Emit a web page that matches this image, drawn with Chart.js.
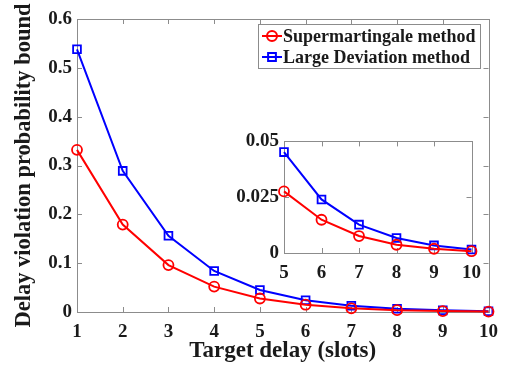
<!DOCTYPE html>
<html><head><meta charset="utf-8">
<script src="https://cdn.jsdelivr.net/npm/chart.js@4"></script>
<style>
html,body{margin:0;padding:0;background:#fff;}
#wrap{position:relative;width:507px;height:367px;}
#main{position:absolute;left:0;top:0;}
#inset{position:absolute;left:220px;top:125px;}
</style></head>
<body>
<div id="wrap">
<canvas id="main" width="507" height="367"></canvas>
<canvas id="inset" width="270" height="165"></canvas>
</div>
<script>
const targetDelay = [1,2,3,4,5,6,7,8,9,10];
const supermartingale = [0.332,0.179,0.096,0.052,0.0276,0.0149,0.0076,0.0037,0.0019,0.0008];
const largeDeviation = [0.538,0.289,0.156,0.084,0.0452,0.024,0.0127,0.0067,0.0034,0.0016];
const mainYTicks = [0,0.1,0.2,0.3,0.4,0.5,0.6];
const insetDelay = [5,6,7,8,9,10];
const insetYTicks = [0,0.025,0.05];
const seriesNames = ['Supermartingale method','Large Deviation method'];

const RED = '#ff0000', BLUE = '#0000ff', AXIS = '#8c8c8c', TXT = '#1a1a1a';
const FONT = "'Liberation Serif', 'Times New Roman', serif";

function pts(xs, ys, off){ return xs.map((x,i)=>({x:x, y:ys[i+(off||0)]})); }
function fmt(v){ return String(Number(v.toFixed(4))); }

const boxPlugin = {
  id:'boxTicks',
  beforeDatasetsDraw(chart){
    const {ctx, chartArea:a, scales} = chart;
    ctx.save();
    ctx.strokeStyle = AXIS; ctx.lineWidth = 1;
    ctx.strokeRect(Math.round(a.left)+0.5, Math.round(a.top)+0.5, Math.round(a.right-a.left), Math.round(a.bottom-a.top));
    const L = 5;
    ctx.beginPath();
    scales.x.ticks.forEach(t=>{
      const p = Math.round(scales.x.getPixelForValue(t.value))+0.5;
      ctx.moveTo(p,a.bottom); ctx.lineTo(p,a.bottom-L);
      ctx.moveTo(p,a.top); ctx.lineTo(p,a.top+L);
    });
    scales.y.ticks.forEach(t=>{
      const p = Math.round(scales.y.getPixelForValue(t.value))+0.5;
      ctx.moveTo(a.left,p); ctx.lineTo(a.left+L,p);
      ctx.moveTo(a.right,p); ctx.lineTo(a.right-L,p);
    });
    ctx.stroke();
    ctx.restore();
  }
};

const legendPlugin = {
  id:'customLegend',
  afterDraw(chart){
    const ctx = chart.ctx;
    ctx.save();
    const bx = 258.5, by = 24.5, bw = 222, bh = 44;
    ctx.fillStyle = '#fff'; ctx.fillRect(bx,by,bw,bh);
    ctx.strokeStyle = AXIS; ctx.lineWidth = 1; ctx.strokeRect(bx,by,bw,bh);
    const rows = [
      {name:seriesNames[0], color:RED, style:'circle', r:5, y:36},
      {name:seriesNames[1], color:BLUE, style:'rect', r:5.5, y:57}
    ];
    rows.forEach(r=>{
      ctx.strokeStyle = r.color; ctx.lineWidth = 2;
      ctx.beginPath(); ctx.moveTo(262, r.y); ctx.lineTo(282, r.y); ctx.stroke();
      ctx.fillStyle = 'rgba(0,0,0,0)';
      Chart.helpers.drawPoint(ctx, {pointStyle:r.style, radius:r.r, borderWidth:1.8, rotation:0}, 272, r.y);
      ctx.fillStyle = TXT;
      ctx.font = "bold 18px " + FONT;
      ctx.textBaseline = 'middle'; ctx.textAlign = 'left';
      ctx.fillText(r.name, 283, r.y+1);
    });
    ctx.restore();
  }
};

function ds(label, data, color, style, r){
  return {label, data, borderColor:color, backgroundColor:'rgba(0,0,0,0)',
    borderWidth:2, pointStyle:style, pointRadius:r, pointHoverRadius:r,
    pointBorderWidth:1.8, pointBorderColor:color, pointBackgroundColor:'rgba(0,0,0,0)',
    tension:0, clip:false};
}

const GRID = {display:false, drawTicks:false, tickLength:0};

new Chart(document.getElementById('main'), {
  type:'line',
  data:{datasets:[
    ds(seriesNames[0], pts(targetDelay, supermartingale), RED, 'circle', 5),
    ds(seriesNames[1], pts(targetDelay, largeDeviation), BLUE, 'rect', 5.5)
  ]},
  options:{
    responsive:false, animation:false, devicePixelRatio:1,
    layout:{padding:{left:0, top:19, right:18, bottom:0}},
    plugins:{legend:{display:false}, tooltip:{enabled:false}},
    scales:{
      x:{type:'linear', min:targetDelay[0], max:targetDelay[targetDelay.length-1],
        afterFit(s){ s.height = 55; },
        afterBuildTicks(s){ s.ticks = targetDelay.map(v=>({value:v})); },
        grid:GRID, border:{display:false},
        ticks:{color:TXT, padding:9, font:{family:FONT, size:19, weight:'bold'}, maxRotation:0, callback:v=>fmt(v)},
        title:{display:true, text:'Target delay (slots)', color:TXT, padding:{top:0,bottom:2}, font:{family:FONT, size:23, weight:'bold'}}
      },
      y:{type:'linear', min:mainYTicks[0], max:mainYTicks[mainYTicks.length-1],
        afterFit(s){ s.width = 77; },
        afterBuildTicks(s){ s.ticks = mainYTicks.map(v=>({value:v})); },
        grid:GRID, border:{display:false},
        ticks:{color:TXT, padding:5, font:{family:FONT, size:19, weight:'bold'}, callback:v=>fmt(v)},
        title:{display:true, text:'Delay violation probability bound', color:TXT, padding:{top:11,bottom:0}, font:{family:FONT, size:22.5, weight:'bold'}}
      }
    }
  },
  plugins:[boxPlugin, legendPlugin]
});

new Chart(document.getElementById('inset'), {
  type:'line',
  data:{datasets:[
    ds(seriesNames[0], pts(insetDelay, supermartingale, 4), RED, 'circle', 5),
    ds(seriesNames[1], pts(insetDelay, largeDeviation, 4), BLUE, 'rect', 5.5)
  ]},
  options:{
    responsive:false, animation:false, devicePixelRatio:1,
    layout:{padding:{left:0, top:14, right:14, bottom:0}},
    plugins:{legend:{display:false}, tooltip:{enabled:false}},
    scales:{
      x:{type:'linear', min:insetDelay[0], max:insetDelay[insetDelay.length-1],
        afterFit(s){ s.height = 37; },
        afterBuildTicks(s){ s.ticks = insetDelay.map(v=>({value:v})); },
        grid:GRID, border:{display:false},
        ticks:{color:TXT, padding:9, font:{family:FONT, size:19, weight:'bold'}, maxRotation:0, callback:v=>fmt(v)}
      },
      y:{type:'linear', min:insetYTicks[0], max:insetYTicks[insetYTicks.length-1],
        afterFit(s){ s.width = 64; },
        afterBuildTicks(s){ s.ticks = insetYTicks.map(v=>({value:v})); },
        grid:GRID, border:{display:false},
        ticks:{color:TXT, padding:5, font:{family:FONT, size:19, weight:'bold'}, callback:v=>fmt(v)}
      }
    }
  },
  plugins:[boxPlugin]
});
</script>
</body></html>
